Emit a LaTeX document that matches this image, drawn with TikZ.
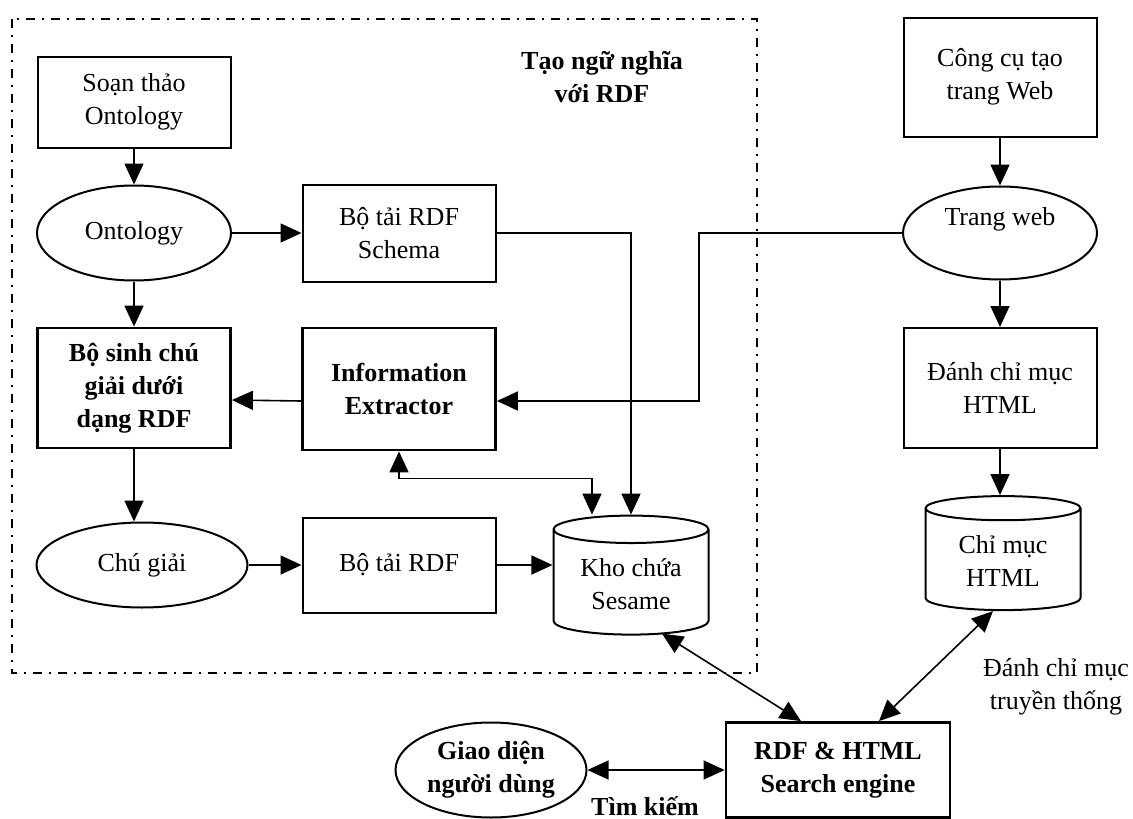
\documentclass[tikz,border=0pt]{standalone}
\usepackage{fontspec}
\setmainfont{Liberation Serif}
\usetikzlibrary{arrows.meta,shapes.geometric}

\tikzset{
    box/.style={draw,line width=2pt,align=center,minimum width=193pt,minimum height=96pt,inner sep=2pt},
    boldbox/.style={box,line width=2.8pt,font=\fontsize{26}{33}\selectfont\bfseries},
    oval/.style={draw,ellipse,line width=2pt,align=center,minimum width=194pt,minimum height=93pt,inner sep=0pt},
    store/.style={draw,cylinder,shape border rotate=90,aspect=0.26,line width=2pt,align=center,minimum width=155pt,minimum height=119pt,inner sep=2pt},
    link/.style={line width=1.6pt,-{Triangle[length=21pt,width=19pt]}},
    both/.style={line width=1.6pt,{Triangle[length=21pt,width=19pt]}-{Triangle[length=21pt,width=19pt]}},
    frame/.style={line width=2pt,dash pattern=on 9pt off 7pt on 2pt off 7pt}
}

\begin{document}
\begin{tikzpicture}[x=1pt,y=-1pt,font=\fontsize{26}{33}\selectfont]
            \useasboundingbox (0,0) rectangle (1133,819);

            %group
            \draw[frame] (12,19) rectangle (757,673);

            \node[font=\fontsize{26}{33}\selectfont\bfseries,align=center] (title) at (602,77) {Tạo ngữ nghĩa\\với RDF};

            %left column
            \node[box,minimum height=91pt] (soan) at (134,102) {Soạn thảo\\Ontology};

            \node[oval,minimum height=95pt] (onto) at (134,233) {Ontology};

            \node[boldbox,minimum height=120pt] (sinh) at (134,388) {Bộ sinh chú\\giải dưới\\dạng RDF};

            \node[oval,minimum width=211pt,minimum height=85pt] (chu) at (142,565) {Chú giải};

            %middle column
            \node[box,minimum height=97pt] (schema) at (399,233) {Bộ tải RDF\\Schema};

            \node[boldbox,minimum height=122pt] (extr) at (399,389) {Information\\Extractor};

            \node[box,minimum height=95pt] (tai) at (399,565) {Bộ tải RDF};

            \node[store] (kho) at (631,584) {Kho chứa\\Sesame};

            %right column
            \node[box,minimum height=119pt] (cong) at (1000,77) {Công cụ tạo\\trang Web};

            \node[oval,label={[yshift=14pt]center:Trang web}] (web) at (1000,233) {};

            \node[box,minimum height=120pt] (danh) at (1000,388) {Đánh chỉ mục\\HTML};

            \node[store,minimum height=114pt] (chimuc) at (1003,561) {Chỉ mục\\HTML};

            \node[align=center] (truyen) at (1056,687) {Đánh chỉ mục\\truyền thống};

            %bottom row
            \node[boldbox,minimum width=224pt,minimum height=95pt] (search) at (838,770) {RDF \& HTML\\Search engine};

            \node[oval,minimum width=191pt,minimum height=95pt,font=\fontsize{26}{33}\selectfont\bfseries] (giao) at (491,770) {Giao diện\\người dùng};

            \node[font=\fontsize{26}{33}\selectfont\bfseries] (tim) at (645,806) {Tìm kiếm};

            %arrows
            \draw[link] (soan) -- (onto);

            \draw[link] (onto) -- (schema);

            \draw[link] (onto) -- (sinh);

            \draw[link] (schema) -| (kho);

            \draw[link] ([yshift=-12pt]extr.west) -- ([yshift=-12pt]sinh.east);

            \draw[link] (web.west) -- ++(-203,0) |- ([yshift=-12pt]extr.east);

            \draw[both] (extr.south) |- ([xshift=-39pt,yshift=36pt]kho.north) -- ([xshift=-39pt]kho.north);

            \draw[link] (sinh) -- (sinh |- chu.north);

            \draw[link] (chu) -- (tai);

            \draw[link] (tai) -- (tai -| kho.west);

            \draw[link] (cong) -- (web);

            \draw[link] (web) -- (danh);

            \draw[link] (danh) -- (danh |- chimuc.north);

            \draw[both] ([xshift=31pt,yshift=2pt]kho.south) -- ([xshift=-37pt]search.north);

            \draw[both] ([xshift=-10pt]chimuc.south) -- ([xshift=41pt]search.north);

            \draw[both] (giao) -- (search);
        \end{tikzpicture}
\end{document}
